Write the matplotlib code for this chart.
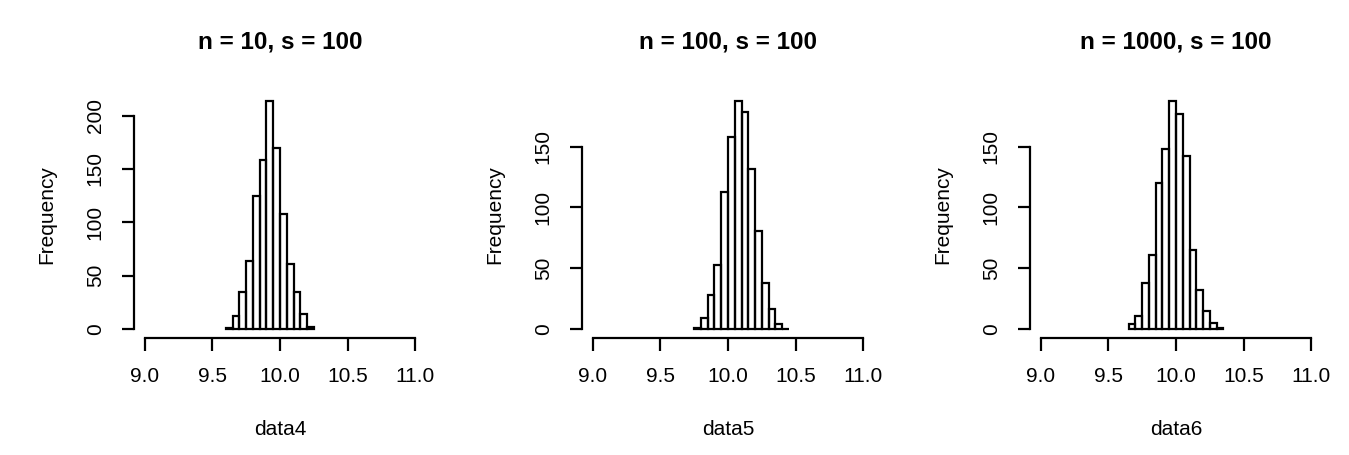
import matplotlib.pyplot as plt

plt.rcParams['font.family'] = ['Liberation Sans', 'DejaVu Sans']

# histogram data (bin width 0.05)
titles = ["n = 10, s = 100", "n = 100, s = 100", "n = 1000, s = 100"]
xlabels = ["data4", "data5", "data6"]
bin_width = 0.05
starts = [9.60, 9.75, 9.65]
counts4 = [1, 12, 35, 64, 125, 158, 214, 170, 108, 61, 35, 14, 2]
counts5 = [1, 9, 28, 53, 113, 158, 188, 179, 132, 81, 38, 16, 4, 0]
counts6 = [4, 11, 38, 61, 120, 148, 188, 177, 142, 65, 32, 15, 5, 1]
yticks = [[0, 50, 100, 150, 200], [0, 50, 100, 150], [0, 50, 100, 150]]
xticks = [9.0, 9.5, 10.0, 10.5, 11.0]

W, H = 1349, 455
fig = plt.figure(figsize=(W / 100, H / 100), dpi=100)

for i, counts in enumerate([counts4, counts5, counts6]):
    left = 134 + 448 * i
    ax = fig.add_axes([left / W, (H - 338) / H, 292 / W, 246.5 / H])
    edges = [starts[i] + k * bin_width for k in range(len(counts))]
    ax.bar(edges, counts, width=bin_width, align='edge', fill=False,
           edgecolor='black', linewidth=1.6)

    ymax = max(counts)
    ax.set_xlim(8.92, 11.08)
    ax.set_ylim(-0.04 * ymax, 1.04 * ymax)

    ax.spines['top'].set_visible(False)
    ax.spines['right'].set_visible(False)
    ax.spines['left'].set_bounds(yticks[i][0], yticks[i][-1])
    ax.spines['bottom'].set_bounds(9, 11)
    for s in ['left', 'bottom']:
        ax.spines[s].set_linewidth(1.6)

    ax.set_xticks(xticks)
    ax.set_xticklabels([f"{t:.1f}" for t in xticks])
    ax.set_yticks(yticks[i])
    ax.set_yticklabels([str(t) for t in yticks[i]], rotation=90, va='center')
    ax.tick_params(axis='both', length=9, width=1.6, labelsize=15, pad=12)

    ax.text(0.5, 1.2, titles[i], transform=ax.transAxes, ha='center',
            va='center', fontsize=17.5, fontweight='bold')
    ax.text(0.5, -0.373, xlabels[i], transform=ax.transAxes, ha='center',
            va='center', fontsize=15)
    ax.text(-0.298, 0.5, "Frequency", transform=ax.transAxes, ha='center',
            va='center', rotation=90, fontsize=15)

fig.savefig("out.png", dpi=100)
